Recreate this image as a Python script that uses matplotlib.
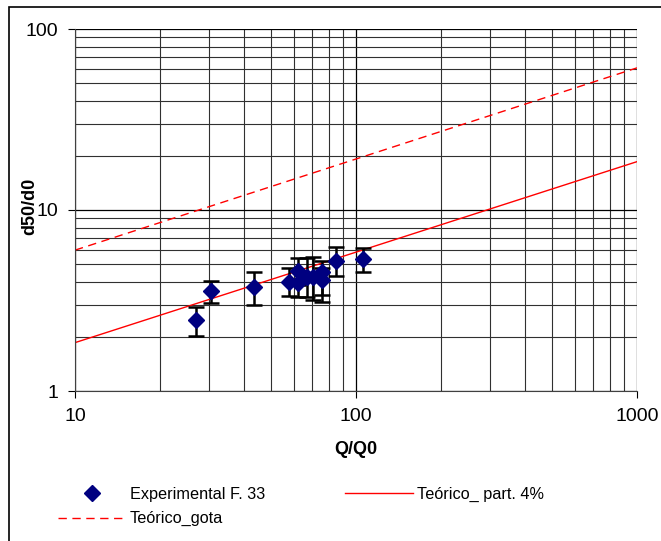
import numpy as np
import matplotlib.pyplot as plt
from matplotlib.patches import Rectangle

plt.rcParams['font.family'] = ['Liberation Sans', 'DejaVu Sans']

# experimental points (Q/Q0, d50/d0) with error bar limits
Q = [27.0, 30.5, 43.4, 57.8, 62.3, 62.3, 66.8, 70.5, 75.5, 75.5, 84.7, 105.7]
D = [2.47, 3.57, 3.77, 4.02, 4.62, 3.94, 4.28, 4.28, 4.56, 4.10, 5.25, 5.34]
D_lo = [2.01, 3.05, 3.00, 3.35, 3.85, 3.30, 3.30, 3.20, 3.10, 3.40, 4.32, 4.56]
D_hi = [2.92, 4.05, 4.53, 4.80, 5.40, 4.60, 5.45, 5.50, 5.20, 4.80, 6.22, 6.14]

# theoretical lines (end points)
Q_line = [10, 1000]
D_part = [1.85, 18.5]
D_gota = [6.0, 61.0]

fig = plt.figure(figsize=(6.61, 5.41), dpi=100)
ax = fig.add_axes([75/661, 1-391/541, (637-75)/661, (391-29)/541])

yerr = [np.array(D) - np.array(D_lo), np.array(D_hi) - np.array(D)]
ax.errorbar(Q, D, yerr=yerr, fmt='none', ecolor='black', elinewidth=1.8,
            capsize=5.5, capthick=1.8, zorder=3)
pts, = ax.plot(Q, D, 'D', color='#000080', markersize=8.5, linestyle='none', zorder=4,
               label='Experimental F. 33')
part, = ax.plot(Q_line, D_part, color='red', lw=1, label='Teórico_ part. 4%', zorder=2)
gota, = ax.plot(Q_line, D_gota, color='red', lw=1, dashes=(6, 4), label='Teórico_gota', zorder=2)

ax.set_xscale('log')
ax.set_yscale('log')
ax.set_xlim(10, 1000)
ax.set_ylim(1, 100)
ax.set_xticks([10, 100, 1000])
ax.set_xticklabels(['10', '100', '1000'])
ax.set_yticks([1, 10, 100])
ax.set_yticklabels(['1', '10', '100'])
ax.tick_params(axis='both', which='major', labelsize=14, length=5, width=0.8, pad=7)
ax.tick_params(axis='both', which='minor', length=0)
ax.grid(True, which='major', color='black', lw=0.9)
ax.grid(True, which='minor', color='#303030', lw=0.8)
ax.set_axisbelow(True)
for s in ['top', 'right']:
    ax.spines[s].set_visible(False)
for s in ['left', 'bottom']:
    ax.spines[s].set_color('#404040')

ax.set_xlabel('Q/Q0', fontsize=13, fontweight='bold', labelpad=12)
ax.set_ylabel('d50/d0', fontsize=13, fontweight='bold')
ax.yaxis.set_label_coords(-0.066, 0.51)

fig.legend(handles=[pts, gota, part], loc='upper left', ncol=2, frameon=False,
           bbox_to_anchor=(51/661, 1-480/541), fontsize=11.7, handlelength=4.2,
           handletextpad=0.25, columnspacing=4.9, labelspacing=0.6, borderaxespad=0)

fig.patches.append(Rectangle((9/661, -0.05), 1.1, 1-7/541+0.05, transform=fig.transFigure,
                             fill=False, edgecolor='black', lw=1.2))

fig.savefig('out.png', dpi=100)
